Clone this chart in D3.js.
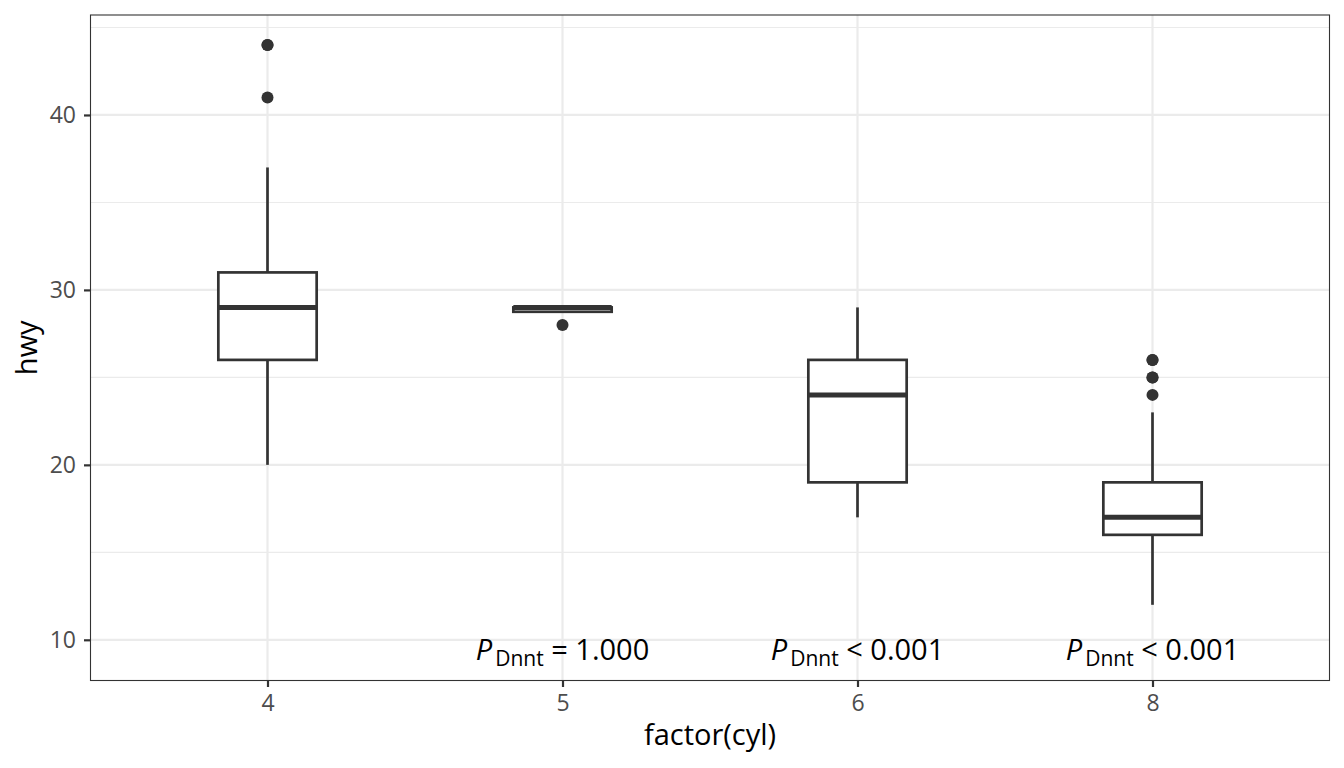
<!DOCTYPE html>
<html>
<head>
<meta charset="utf-8">
<script src="https://cdn.jsdelivr.net/npm/d3@7"></script>
<style>
  body { margin: 0; background: #fff; }
  text { font-family: "Open Sans", "Noto Sans", sans-serif; }
</style>
</head>
<body>
<div class="graphics"></div>
<script>
// hwy by cylinders (boxplot stats)
var categories = ["4", "5", "6", "8"];
var whiskerLow = [20, 28.75, 17, 12];
var q1 = [26, 28.75, 19, 16];
var median = [29, 29, 24, 17];
var q3 = [31, 29, 26, 19];
var whiskerHigh = [37, 29, 29, 23];
var outliers = [[44, 44, 41], [28], [], [24, 25, 26, 26, 25]];

// p value labels under each group
var pCats = ["5", "6", "8"];
var pSigns = ["= 1.000", "< 0.001", "< 0.001"];
var pY = 9.44;

var majorTicks = [10, 20, 30, 40];
var minorTicks = [15, 25, 35, 45];

var w = 1344, h = 768;
var m = {left: 90.5, right: 14.5, top: 15, bottom: 87.5};
var ink = "#333333";

var boxes = categories.map(function(c, i){
    return {cat: c, lo: whiskerLow[i], q1: q1[i], med: median[i], q3: q3[i], hi: whiskerHigh[i], out: outliers[i]};
});

var x = d3.scalePoint()
    .domain(categories)
    .range([m.left, w - m.right])
    .padding(0.6);

var y = d3.scaleLinear()
    .domain([7.674, 45.714])
    .range([h - m.bottom, m.top]);

var boxW = x.step() / 3;

var svg = d3.select(".graphics")
    .append("svg")
    .attr("width", w)
    .attr("height", h);

// grid
svg.selectAll("line.minor")
    .data(minorTicks.filter(function(d){ return y(d) >= m.top; }))
    .enter().append("line")
    .attr("x1", m.left).attr("x2", w - m.right)
    .attr("y1", function(d){ return y(d); })
    .attr("y2", function(d){ return y(d); })
    .attr("stroke", "#EBEBEB").attr("stroke-width", 1.1);

svg.selectAll("line.major")
    .data(majorTicks)
    .enter().append("line")
    .attr("x1", m.left).attr("x2", w - m.right)
    .attr("y1", function(d){ return y(d); })
    .attr("y2", function(d){ return y(d); })
    .attr("stroke", "#EBEBEB").attr("stroke-width", 2.2);

svg.selectAll("line.vgrid")
    .data(categories)
    .enter().append("line")
    .attr("x1", function(d){ return x(d); })
    .attr("x2", function(d){ return x(d); })
    .attr("y1", m.top).attr("y2", h - m.bottom)
    .attr("stroke", "#EBEBEB").attr("stroke-width", 2.2);

// boxes
var g = svg.selectAll("g.box")
    .data(boxes)
    .enter().append("g")
    .attr("class", "box");

g.append("line")
    .attr("x1", function(d){ return x(d.cat); })
    .attr("x2", function(d){ return x(d.cat); })
    .attr("y1", function(d){ return y(d.hi); })
    .attr("y2", function(d){ return y(d.q3); })
    .attr("stroke", ink).attr("stroke-width", 2.7);

g.append("line")
    .attr("x1", function(d){ return x(d.cat); })
    .attr("x2", function(d){ return x(d.cat); })
    .attr("y1", function(d){ return y(d.q1); })
    .attr("y2", function(d){ return y(d.lo); })
    .attr("stroke", ink).attr("stroke-width", 2.7);

g.append("rect")
    .attr("x", function(d){ return x(d.cat) - boxW / 2; })
    .attr("width", boxW)
    .attr("y", function(d){ return y(d.q3); })
    .attr("height", function(d){ return y(d.q1) - y(d.q3); })
    .attr("fill", "#fff")
    .attr("stroke", ink).attr("stroke-width", 2.7);

g.append("line")
    .attr("x1", function(d){ return x(d.cat) - boxW / 2; })
    .attr("x2", function(d){ return x(d.cat) + boxW / 2; })
    .attr("y1", function(d){ return y(d.med); })
    .attr("y2", function(d){ return y(d.med); })
    .attr("stroke", ink).attr("stroke-width", 5);

g.selectAll("circle")
    .data(function(d){ return d.out.map(function(v){ return {cat: d.cat, v: v}; }); })
    .enter().append("circle")
    .attr("cx", function(d){ return x(d.cat); })
    .attr("cy", function(d){ return y(d.v); })
    .attr("r", 6)
    .attr("fill", ink);

// p labels
var lab = svg.selectAll("text.plab")
    .data(pCats)
    .enter().append("text")
    .attr("class", "plab")
    .attr("x", function(d){ return x(d); })
    .attr("y", y(pY) + 10)
    .attr("text-anchor", "middle")
    .attr("font-size", 29)
    .attr("fill", "#000");
lab.append("tspan").attr("font-style", "italic").text("P");
lab.append("tspan").attr("font-size", 21).attr("dx", 3).attr("dy", 6).text("Dnnt");
lab.append("tspan").attr("dy", -6).text(function(d, i){ return " " + pSigns[i]; });

// panel border
svg.append("rect")
    .attr("x", m.left).attr("y", m.top)
    .attr("width", w - m.left - m.right)
    .attr("height", h - m.top - m.bottom)
    .attr("fill", "none")
    .attr("stroke", ink).attr("stroke-width", 1.1);

// axes
var yAxis = svg.append("g")
    .attr("transform", "translate(" + m.left + ",0)")
    .call(d3.axisLeft(y).tickValues(majorTicks).tickSize(6.5).tickPadding(8));
var xAxis = svg.append("g")
    .attr("transform", "translate(0," + (h - m.bottom) + ")")
    .call(d3.axisBottom(x).tickSize(6.5).tickPadding(8));

[yAxis, xAxis].forEach(function(a){
    a.select(".domain").remove();
    a.selectAll(".tick line").attr("stroke", ink).attr("stroke-width", 2.2);
    a.selectAll(".tick text")
        .attr("fill", "#4D4D4D")
        .attr("font-size", 23)
        .attr("font-family", "Open Sans, Noto Sans, sans-serif");
});

svg.append("text")
    .attr("x", (m.left + w - m.right) / 2)
    .attr("y", 745)
    .attr("text-anchor", "middle")
    .attr("font-size", 29)
    .attr("fill", "#000")
    .text("factor(cyl)");

svg.append("text")
    .attr("transform", "translate(37," + ((m.top + h - m.bottom) / 2) + ") rotate(-90)")
    .attr("text-anchor", "middle")
    .attr("font-size", 29)
    .attr("fill", "#000")
    .text("hwy");
</script>
</body>
</html>
